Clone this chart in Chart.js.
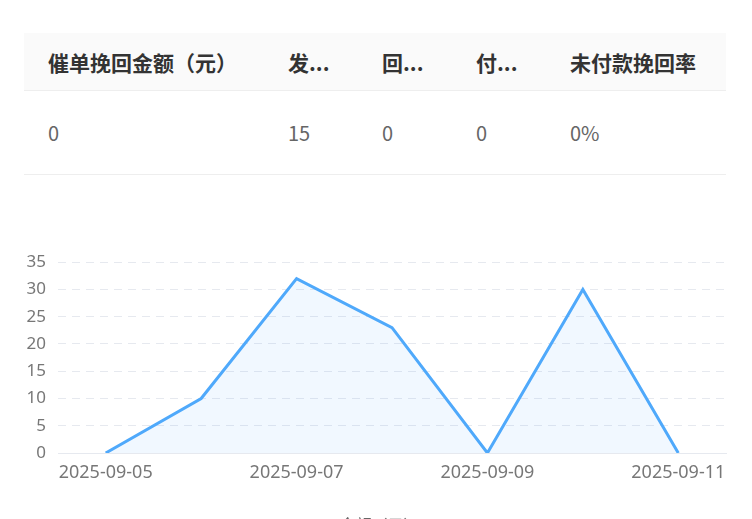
<!DOCTYPE html>
<html lang="zh-CN">

<head>
    <meta charset="UTF-8">
    <title>催单挽回金额</title>
    <script src="https://cdn.jsdelivr.net/npm/chart.js"></script>
    <style>
        html, body {
            margin: 0;
            padding: 0;
            width: 752px;
            height: 519px;
            overflow: hidden;
            background: #fff;
            font-family: 'Noto Sans CJK SC', 'Noto Sans', sans-serif;
        }

        .stats {
            position: absolute;
            left: 24px;
            top: 33px;
            width: 702px;
            border-collapse: collapse;
            table-layout: fixed;
        }

        .stats th {
            background: #fafafa;
            height: 57px;
            padding: 0 0 0 24px;
            text-align: left;
            font-size: 21px;
            font-weight: bold;
            color: #333;
            border-bottom: 1px solid #eeeeee;
            white-space: nowrap;
        }

        .stats td {
            height: 83px;
            padding: 0 0 0 24px;
            font-size: 20px;
            color: #666;
            border-bottom: 1px solid #eeeeee;
        }

        .chart-box {
            position: absolute;
            left: 0;
            top: 240px;
            width: 752px;
            height: 303px;
        }
    </style>
</head>

<body>
    <table class="stats">
        <colgroup>
            <col style="width:240px">
            <col style="width:94px">
            <col style="width:94px">
            <col style="width:94px">
            <col style="width:180px">
        </colgroup>
        <tr>
            <th>催单挽回金额（元）</th>
            <th>发...</th>
            <th>回...</th>
            <th>付...</th>
            <th>未付款挽回率</th>
        </tr>
        <tr>
            <td>0</td>
            <td>15</td>
            <td>0</td>
            <td>0</td>
            <td>0%</td>
        </tr>
    </table>

    <div class="chart-box">
        <canvas id="amountChart"></canvas>
    </div>

    <script>
        const dates = ['2025-09-05', '2025-09-06', '2025-09-07', '2025-09-08', '2025-09-09', '2025-09-10', '2025-09-11'];
        const amounts = [0, 10, 32, 23, 0, 30, 0];
        const seriesName = '金额（元）';

        const gridColor = '#e6e9ef';
        const tickColor = '#777';

        const ctx = document.getElementById('amountChart').getContext('2d');
        const amountChart = new Chart(ctx, {
            type: 'line',
            data: {
                labels: dates,
                datasets: [{
                    label: seriesName,
                    data: amounts,
                    borderColor: '#4fa9fb',
                    backgroundColor: 'rgba(79, 169, 251, 0.08)',
                    borderWidth: 3,
                    fill: true,
                    tension: 0,
                    pointRadius: 0
                }]
            },
            options: {
                responsive: true,
                maintainAspectRatio: false,
                animation: false,
                layout: {
                    padding: { left: 0, right: 26, top: 13, bottom: 0 }
                },
                plugins: {
                    tooltip: { enabled: false },
                    legend: {
                        position: 'bottom',
                        labels: {
                            boxWidth: 25,
                            color: '#666',
                            font: { family: "'Noto Sans CJK SC', sans-serif", size: 16 },
                            // icon sits below the visible area in the original, keep only the spacing
                            generateLabels: function (chart) {
                                return Chart.defaults.plugins.legend.labels.generateLabels(chart).map(function (item) {
                                    item.fillStyle = 'rgba(0,0,0,0)';
                                    item.strokeStyle = 'rgba(0,0,0,0)';
                                    return item;
                                });
                            }
                        }
                    }
                },
                scales: {
                    x: {
                        offset: true,
                        grid: { display: false },
                        border: { display: true, color: gridColor, width: 1 },
                        ticks: {
                            autoSkip: false,
                            maxRotation: 0,
                            padding: 1,
                            color: tickColor,
                            font: { family: "'Noto Sans', sans-serif", size: 18 },
                            callback: function (value, index) {
                                return index % 2 === 0 ? this.getLabelForValue(value) : '';
                            }
                        },
                        afterFit: function (scale) {
                            scale.height = 54;
                        }
                    },
                    y: {
                        min: 0,
                        max: 35,
                        ticks: {
                            stepSize: 5,
                            padding: 12,
                            color: tickColor,
                            font: { family: "'Noto Sans', sans-serif", size: 17 }
                        },
                        grid: {
                            color: gridColor,
                            drawTicks: false
                        },
                        border: {
                            display: false,
                            dash: function (c) {
                                return c.tick && c.tick.value === 0 ? [] : [8, 6];
                            }
                        },
                        afterFit: function (scale) {
                            scale.width = 58;
                        }
                    }
                }
            }
        });
    </script>
</body>

</html>
